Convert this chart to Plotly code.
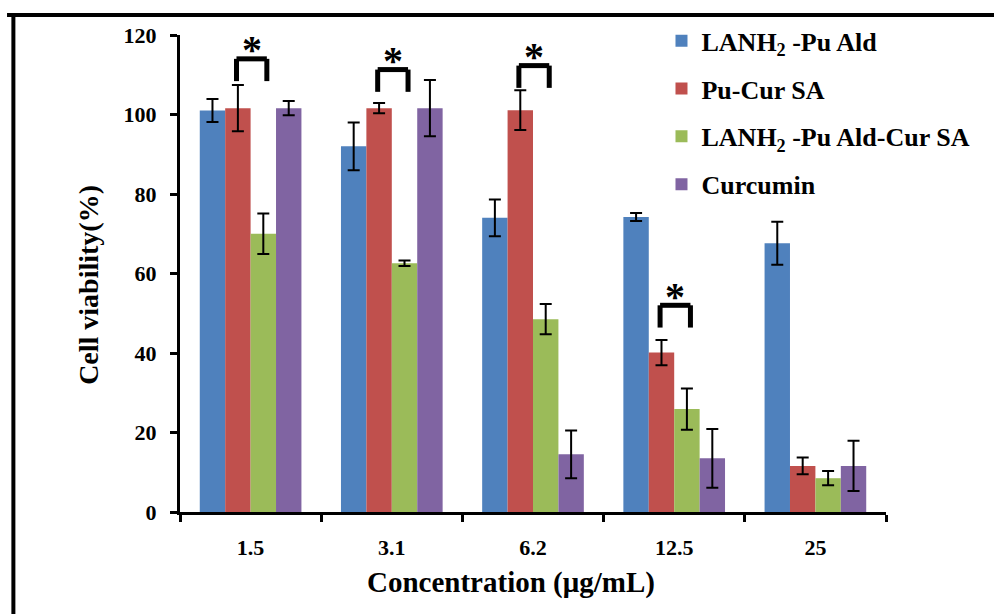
import plotly.graph_objects as go

# Concentrations tested (µg/mL)
categories = ["1.5", "3.1", "6.2", "12.5", "25"]

# Cell viability (%) and standard deviations for each formulation
series_names = [
    "LANH<sub>2</sub> -Pu Ald",
    "Pu-Cur SA",
    "LANH<sub>2</sub> -Pu Ald-Cur SA",
    "Curcumin",
]
lanh2_pu_ald = [101.0, 92.0, 74.0, 74.2, 67.6]
lanh2_pu_ald_err = [2.9, 6.0, 4.6, 1.0, 5.4]
pu_cur_sa = [101.6, 101.6, 101.1, 40.1, 11.6]
pu_cur_sa_err = [5.8, 1.3, 5.0, 3.2, 2.1]
lanh2_pu_ald_cur_sa = [70.0, 62.6, 48.5, 25.9, 8.5]
lanh2_pu_ald_cur_sa_err = [5.1, 0.7, 3.8, 5.2, 1.8]
curcumin = [101.6, 101.6, 14.5, 13.5, 11.6]
curcumin_err = [1.8, 7.1, 6.0, 7.4, 6.3]

# Significance marks (Pu-Cur SA vs LANH2-Pu Ald-Cur SA): category index, bracket base
sig_index = [0, 1, 2, 3]
sig_base = [108.4, 105.7, 106.7, 46.4]

x_title = "Concentration (μg/mL)"
y_title = "Cell viability(%)"

values = [lanh2_pu_ald, pu_cur_sa, lanh2_pu_ald_cur_sa, curcumin]
errors = [lanh2_pu_ald_err, pu_cur_sa_err, lanh2_pu_ald_cur_sa_err, curcumin_err]
colors = ["#4F81BD", "#C0504D", "#9BBB59", "#8064A2"]

FONT = "Times New Roman, Liberation Serif, Times, serif"
positions = list(range(len(categories)))

fig = go.Figure()
for i, (name, vals, errs, col) in enumerate(zip(series_names, values, errors, colors)):
    fig.add_trace(go.Bar(
        x=positions, y=vals, name=name,
        marker=dict(color=col, line=dict(width=0)),
        error_y=dict(type="data", array=errs, visible=True,
                     color="black", thickness=2, width=6),
        legendgroup=f"g{i}",
    ))

BARGAP = 0.28
n_series = len(series_names)
bar_w = (1 - BARGAP) / n_series


def bar_center(cat_idx, series_idx):
    return cat_idx - (1 - BARGAP) / 2 + bar_w * (series_idx + 0.5)


shapes = []
annotations = []
bracket_h = 5.6
for idx, base in zip(sig_index, sig_base):
    xa = bar_center(idx, 1) - 0.01
    xb = bar_center(idx, 2) + 0.025
    top = base + bracket_h
    line = dict(color="black", width=5)
    shapes.append(dict(type="line", xref="x", yref="y", x0=xa, x1=xa, y0=base, y1=top, line=line))
    shapes.append(dict(type="line", xref="x", yref="y", x0=xb, x1=xb, y0=base, y1=top, line=line))
    shapes.append(dict(type="line", xref="x", yref="y", x0=xa, x1=xb, y0=top, y1=top, line=line))
    annotations.append(dict(
        x=(xa + xb) / 2, y=top + 3.8, xref="x", yref="y", text="*",
        showarrow=False, yanchor="middle", yshift=-6,
        font=dict(family=FONT, size=40, color="black", weight="bold"),
    ))

# Axis titles
annotations.append(dict(
    x=0.469, y=-0.148, xref="paper", yref="paper", text=x_title,
    showarrow=False, xanchor="center", yanchor="middle",
    font=dict(family=FONT, size=29, color="black", weight="bold"),
))
annotations.append(dict(
    x=-0.129, y=0.476, xref="paper", yref="paper", text=y_title,
    showarrow=False, xanchor="center", yanchor="middle", textangle=-90,
    font=dict(family=FONT, size=28, color="black", weight="bold"),
))

# Partial outer frame (top and left edges)
frame = dict(color="black", width=4)
shapes.append(dict(type="line", xref="paper", yref="paper",
                   x0=-0.245, x1=1.2, y0=1.042, y1=1.042, line=frame))
shapes.append(dict(type="line", xref="paper", yref="paper",
                   x0=-0.236, x1=-0.236, y0=1.045, y1=-0.3, line=frame))

fig.update_layout(
    width=994, height=614,
    margin=dict(l=180, r=108, t=35, b=102),
    paper_bgcolor="white", plot_bgcolor="white",
    barmode="group", bargap=BARGAP, bargroupgap=0,
    font=dict(family=FONT, color="black"),
    showlegend=True,
    legend=dict(
        x=0.682, xanchor="left", y=1.037, yanchor="top",
        bgcolor="rgba(0,0,0,0)", traceorder="grouped", tracegroupgap=11,
        font=dict(family=FONT, size=26, color="black", weight="bold"),
    ),
    shapes=shapes,
    annotations=annotations,
)

fig.update_xaxes(
    range=[-0.5, len(categories) - 0.5],
    tickmode="array", tickvals=positions, ticktext=categories,
    ticks="", showgrid=False, zeroline=False,
    showline=True, linecolor="black", linewidth=3,
    tickfont=dict(family=FONT, size=22, color="black", weight="bold"),
    ticklabelstandoff=14,
    minor=dict(tickmode="array", tickvals=[p - 0.5 for p in positions] + [len(categories) - 0.5],
               ticks="outside", ticklen=7, tickwidth=2.5, tickcolor="black", showgrid=False),
)

fig.update_yaxes(
    range=[0, 120], tickmode="array", tickvals=[0, 20, 40, 60, 80, 100, 120],
    ticks="outside", ticklen=7, tickwidth=2.5, tickcolor="black",
    showgrid=False, zeroline=False,
    showline=True, linecolor="black", linewidth=3,
    tickfont=dict(family=FONT, size=22, color="black", weight="bold"),
    ticklabelstandoff=9,
)

fig.write_html("out.html")
